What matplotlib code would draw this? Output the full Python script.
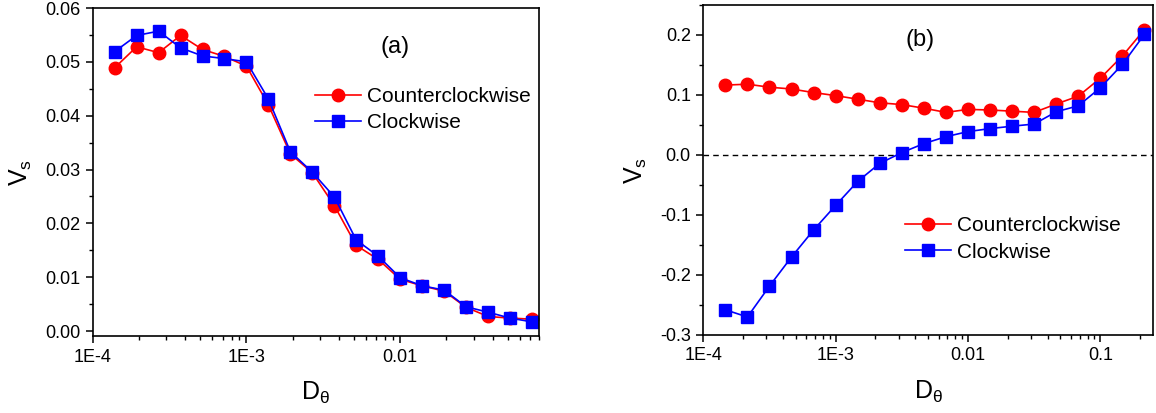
import matplotlib
matplotlib.use('Agg')
import matplotlib.pyplot as plt
from matplotlib.ticker import LogLocator, MultipleLocator, FixedLocator, FixedFormatter

plt.rcParams['font.family'] = ['Liberation Sans', 'DejaVu Sans']
plt.rcParams['mathtext.default'] = 'regular'

# Panel (a) data
d_a = [1.389e-4, 1.931e-4, 2.683e-4, 3.728e-4, 5.179e-4, 7.197e-4, 1.0e-3,
       1.389e-3, 1.931e-3, 2.683e-3, 3.728e-3, 5.179e-3, 7.197e-3, 0.01,
       0.01389, 0.01931, 0.02683, 0.03728, 0.05179, 0.07197]
ccw_a = [0.0489, 0.0528, 0.0517, 0.0549, 0.0523, 0.0510, 0.0492, 0.0420,
         0.0329, 0.0294, 0.0233, 0.0159, 0.0133, 0.0096, 0.0084, 0.0074,
         0.0044, 0.0027, 0.0024, 0.0022]
cw_a = [0.0519, 0.0549, 0.0557, 0.0526, 0.0511, 0.0506, 0.0500, 0.0431,
        0.0333, 0.0295, 0.0249, 0.0169, 0.0139, 0.0099, 0.0084, 0.0076,
        0.0045, 0.0035, 0.0024, 0.0017]

# Panel (b) data
d_b = [1.468e-4, 2.154e-4, 3.162e-4, 4.642e-4, 6.813e-4, 1.0e-3,
       1.468e-3, 2.154e-3, 3.162e-3, 4.642e-3, 6.813e-3, 0.01,
       0.01468, 0.02154, 0.03162, 0.04642, 0.06813, 0.1, 0.1468, 0.2154]
ccw_b = [0.1165, 0.118, 0.113, 0.110, 0.104, 0.099, 0.093, 0.087, 0.084,
         0.078, 0.071, 0.076, 0.075, 0.073, 0.071, 0.085, 0.098, 0.128,
         0.165, 0.209]
cw_b = [-0.258, -0.270, -0.2185, -0.170, -0.125, -0.084, -0.044, -0.014,
        0.004, 0.019, 0.0305, 0.039, 0.044, 0.048, 0.0516, 0.072, 0.082,
        0.112, 0.151, 0.201]

x_ticks = [1e-4, 1e-3, 0.01, 0.1]
x_labels = ['1E-4', '1E-3', '0.01', '0.1']

fig = plt.figure(figsize=(11.56, 4.13), dpi=100)
ax1 = fig.add_axes([0.0802, 0.1864, 0.3861, 0.7942])
ax2 = fig.add_axes([0.6084, 0.1889, 0.389, 0.799])


def style(ax, xmax):
    ax.set_xscale('log')
    ax.set_xlim(1e-4, xmax)
    ax.xaxis.set_major_locator(FixedLocator(x_ticks))
    ax.xaxis.set_major_formatter(FixedFormatter(x_labels))
    ax.xaxis.set_minor_locator(LogLocator(base=10, subs=range(2, 10), numticks=20))
    ax.tick_params(which='major', direction='out', length=5, width=1.1,
                   labelsize=13, pad=4)
    ax.tick_params(which='minor', direction='out', length=3, width=1.0)
    for s in ax.spines.values():
        s.set_linewidth(1.2)
    ax.set_xlabel(r'D$_\theta$', fontsize=18, labelpad=10)
    ax.set_ylabel(r'V$_s$', fontsize=18, labelpad=8)


# (a)
ax1.plot(d_a, ccw_a, '-o', color='#ff0000', lw=1.2, ms=9, label='Counterclockwise')
ax1.plot(d_a, cw_a, '-s', color='#0000ff', lw=1.2, ms=8, label='Clockwise')
style(ax1, 0.08)
ax1.set_ylim(-0.00093, 0.06)
ax1.yaxis.set_major_locator(MultipleLocator(0.01))
ax1.yaxis.set_minor_locator(MultipleLocator(0.005))
ax1.yaxis.set_major_formatter(plt.FormatStrFormatter('%.2f'))
ax1.text(0.677, 0.881, '(a)', transform=ax1.transAxes, fontsize=17,
         ha='center', va='center')
ax1.legend(loc='upper left', bbox_to_anchor=(0.48, 0.785), frameon=False,
           fontsize=15, handlelength=2.2, handletextpad=0.3,
           labelspacing=0.35, borderaxespad=0)

# (b)
ax2.axhline(0, color='black', lw=1.0, ls=(0, (4, 3)))
ax2.plot(d_b, ccw_b, '-o', color='#ff0000', lw=1.2, ms=9, label='Counterclockwise')
ax2.plot(d_b, cw_b, '-s', color='#0000ff', lw=1.2, ms=8, label='Clockwise')
style(ax2, 0.25)
ax2.set_ylim(-0.3, 0.25)
ax2.yaxis.set_major_locator(MultipleLocator(0.1))
ax2.yaxis.set_minor_locator(MultipleLocator(0.05))
ax2.yaxis.set_major_formatter(plt.FormatStrFormatter('%.1f'))
ax2.text(0.482, 0.894, '(b)', transform=ax2.transAxes, fontsize=17,
         ha='center', va='center')
ax2.legend(loc='upper left', bbox_to_anchor=(0.43, 0.385), frameon=False,
           fontsize=15, handlelength=2.2, handletextpad=0.3,
           labelspacing=0.35, borderaxespad=0)

fig.savefig('out.png', dpi=100)
